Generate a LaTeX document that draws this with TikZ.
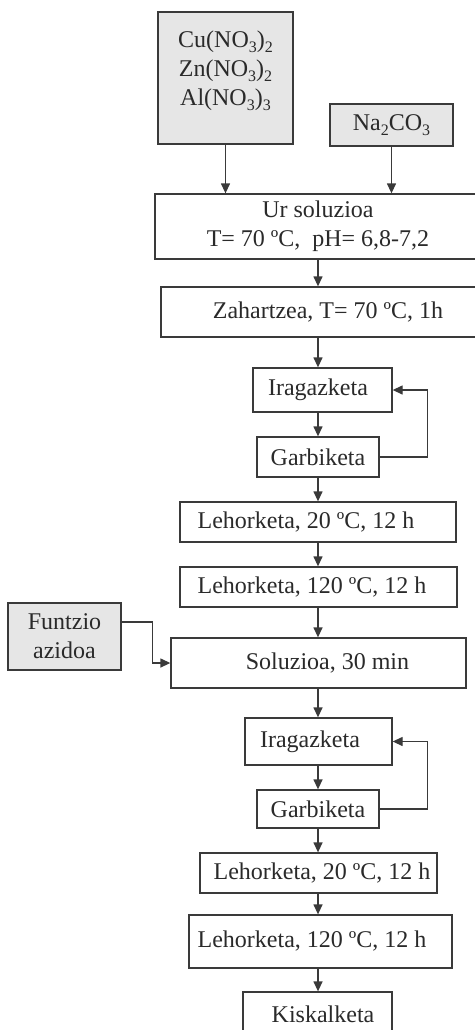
\documentclass[tikz,border=0pt]{standalone}
\usepackage{fontspec}
\setmainfont{Liberation Serif}
\usetikzlibrary{arrows.meta,calc}
\definecolor{inkc}{HTML}{2A2A2A}
\definecolor{linec}{HTML}{3A3A3A}
\definecolor{greyfill}{HTML}{E6E6E6}
\newcommand{\mysub}[1]{\raisebox{-5pt}{\fontsize{16}{16}\selectfont #1}}
\tikzset{
  stepbox/.style={draw=linec, line width=1.3pt, fill=white, inner sep=0pt, align=center, text=inkc, font=\fontsize{24}{29}\selectfont},
  inbox/.style={stepbox, fill=greyfill},
  arr/.style={draw=linec, line width=1.3pt, -{Triangle[length=10pt,width=9pt]}},
}
\begin{document}
\begin{tikzpicture}[x=1pt,y=-1pt]
\useasboundingbox (0,0) rectangle (474,1030);
\coordinate (axis) at (318,0);
% inputs
\node[inbox, minimum width=135pt, minimum height=132pt] (nit) at (225.5,78) {};
\node[align=center, text=inkc, font=\fontsize{24}{29}\selectfont, inner sep=0pt] (nittxt) at (225.5,71)
  {Cu(NO\mysub{3})\mysub{2}\\Zn(NO\mysub{3})\mysub{2}\\Al(NO\mysub{3})\mysub{3}};
\node[inbox, minimum width=123pt, minimum height=42pt] (na) at (391.5,125) {Na\mysub{2}CO\mysub{3}};
% main chain
\node[stepbox, minimum width=326pt, minimum height=65pt] (ur) at (318,226.5) {Ur soluzioa\\T= 70 ºC,\ \ pH= 6,8-7,2};
\node[stepbox, minimum width=334pt, minimum height=50pt] (zah) at (328,312) {Zahartzea, T= 70 ºC, 1h};
\node[stepbox, minimum width=139pt, minimum height=44pt] (ira1) at (322.5,390) {Iragazketa\hspace*{9pt}};
\node[stepbox, minimum width=122pt, minimum height=40pt] (gar1) at (318,457) {Garbiketa};
\node[stepbox, minimum width=276pt, minimum height=40pt] (leh1) at (318,522) {Lehorketa, 20 ºC, 12 h\hspace*{24pt}};
\node[stepbox, minimum width=277pt, minimum height=40pt] (leh2) at (318.5,587) {Lehorketa, 120 ºC, 12 h\hspace*{13pt}};
\node[inbox, minimum width=113pt, minimum height=67pt] (fun) at (64.5,636.5) {Funtzio\\azidoa};
\node[stepbox, minimum width=295pt, minimum height=50pt] (sol) at (318.5,663) {\hspace*{18pt}Soluzioa, 30 min};
\node[stepbox, minimum width=147pt, minimum height=47pt] (ira2) at (318.5,741.5) {Iragazketa\hspace*{17pt}};
\node[stepbox, minimum width=122pt, minimum height=38pt] (gar2) at (318,809) {Garbiketa};
\node[stepbox, minimum width=237pt, minimum height=40pt] (leh3) at (318.5,873) {\hspace*{7pt}Lehorketa, 20 ºC, 12 h};
\node[stepbox, minimum width=263pt, minimum height=53pt] (leh4) at (320.5,941.5) {Lehorketa, 120 ºC, 12 h\hspace*{17pt}};
\node[stepbox, minimum width=149pt, minimum height=45pt] (kis) at (317.5,1014.5) {\hspace*{11pt}Kiskalketa};
% connectors
\draw[arr] (nit.south) -- (nit.south |- ur.north);
\draw[arr] (na.south) -- (na.south |- ur.north);
\draw[arr] (ur.south -| axis) -- (zah.north -| axis);
\draw[arr] (zah.south -| axis) -- (ira1.north -| axis);
\draw[arr] (ira1.south -| axis) -- (gar1.north -| axis);
\draw[arr] (gar1.east) -- ++(48,0) |- (ira1.east);
\draw[arr] (gar1.south -| axis) -- (leh1.north -| axis);
\draw[arr] (leh1.south -| axis) -- (leh2.north -| axis);
\draw[arr] (leh2.south -| axis) -- (sol.north -| axis);
\draw[arr] ([yshift=14.5pt]fun.east) -- ++(31,0) |- (sol.west);
\draw[arr] (sol.south -| axis) -- (ira2.north -| axis);
\draw[arr] (ira2.south -| axis) -- (gar2.north -| axis);
\draw[arr] (gar2.east) -- ++(48,0) |- (ira2.east);
\draw[arr] (gar2.south -| axis) -- (leh3.north -| axis);
\draw[arr] (leh3.south -| axis) -- (leh4.north -| axis);
\draw[arr] (leh4.south -| axis) -- (kis.north -| axis);
\end{tikzpicture}
\end{document}
